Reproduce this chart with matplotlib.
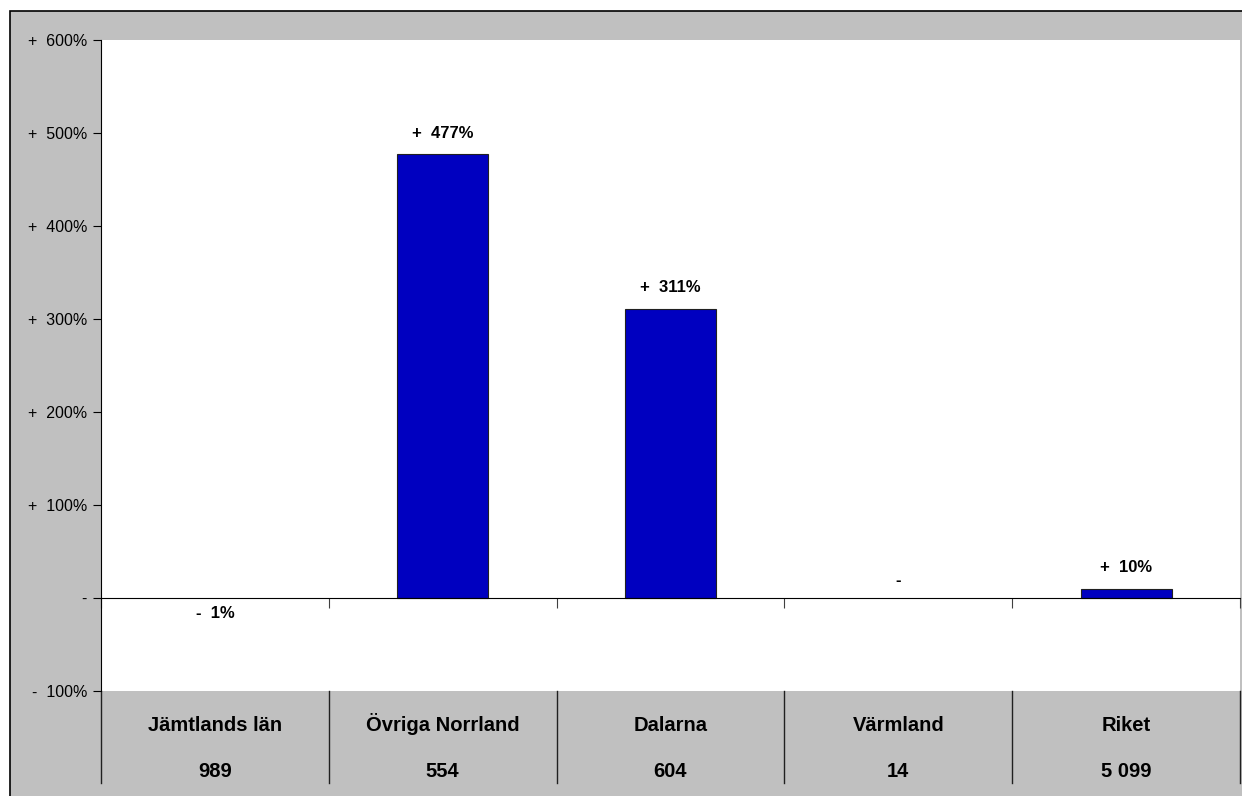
import matplotlib

matplotlib.use("Agg")
import matplotlib.pyplot as plt  # noqa: E402
from matplotlib.patches import Rectangle  # noqa: E402
from matplotlib.transforms import blended_transform_factory  # noqa: E402

CATEGORIES = ["Jämtlands län", "Övriga Norrland", "Dalarna", "Värmland", "Riket"]
CHANGE_PCT = [-1, 477, 311, 0, 10]
COUNTS = ["989", "554", "604", "14", "5 099"]
Y_TICKS = [-100, 0, 100, 200, 300, 400, 500, 600]

GRAY = "#c0c0c0"
BAR = "#0000c0"
W, H = 1242, 796


def fmt(v, gap="  "):
    if v == 0:
        return "-"
    sign = "+" if v > 0 else "-"
    return f"{sign}{gap}{abs(v):g}%"


plt.rcParams["font.family"] = ["Liberation Sans", "DejaVu Sans"]
fig = plt.figure(figsize=(W / 100, H / 100), dpi=100)
fig.patch.set_facecolor("white")

# grey chart-area background with a thin black frame
fig.patches.append(Rectangle((10 / W, -0.01), 1.0, 1 - 11 / H + 0.01,
                             transform=fig.transFigure, facecolor=GRAY,
                             edgecolor="black", linewidth=1.2, zorder=0))

ax = fig.add_axes([101 / W, 1 - 691 / H, (1240 - 101) / W, (691 - 40) / H])
ax.set_facecolor("white")
ax.set_zorder(2)

n = len(CATEGORIES)
xs = list(range(n))
bars = ax.bar(xs, CHANGE_PCT, width=0.4, color=BAR, edgecolor="#202020",
              linewidth=0.8, zorder=3)
for b, v in zip(bars, CHANGE_PCT):
    if abs(v) < 2:
        b.set_edgecolor("none")

ax.set_xlim(-0.5, n - 0.5)
ax.set_ylim(-100, 600)

for side in ("top", "right"):
    ax.spines[side].set_visible(False)
ax.spines["left"].set_color("black")
ax.spines["bottom"].set_position(("data", 0))
ax.spines["bottom"].set_color("black")
ax.spines["bottom"].set_zorder(4)

ax.set_yticks(Y_TICKS)
ax.set_yticklabels([fmt(v) for v in Y_TICKS])
ax.tick_params(axis="y", direction="out", length=6, width=0.8, labelsize=11.5, pad=4)
ax.set_xticks([i - 0.5 for i in range(n + 1)])
ax.set_xticklabels([])
ax.tick_params(axis="x", direction="out", length=7, width=0.8, color="#404040")

for x, v in zip(xs, CHANGE_PCT):
    if v < 0:
        off = -15
    elif v == 0:
        off = 18
    else:
        off = 21
    ax.annotate(fmt(v), (x, v), textcoords="offset pixels", xytext=(0, off),
                ha="center", va="center", fontsize=12, fontweight="bold")

# data table under the plot area
tr = blended_transform_factory(ax.transData, fig.transFigure)
for b in range(n + 1):
    ax.plot([b - 0.5, b - 0.5], [1 - 691 / H, 1 - 783 / H], transform=tr,
            color="#202020", linewidth=1.0, clip_on=False)
for x, name, cnt in zip(xs, CATEGORIES, COUNTS):
    ax.text(x, 1 - 731 / H, name, transform=tr, ha="center", va="baseline",
            fontsize=14.5, fontweight="bold")
    ax.text(x, 1 - 777 / H, cnt, transform=tr, ha="center", va="baseline",
            fontsize=14.5, fontweight="bold")

fig.savefig("out.png", dpi=100)
